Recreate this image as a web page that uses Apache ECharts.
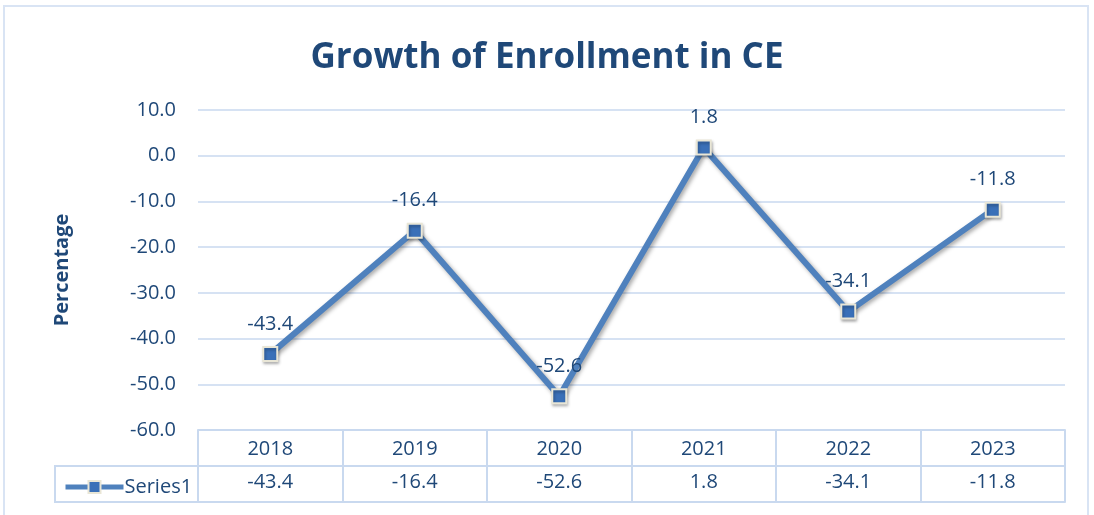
<!DOCTYPE html>
<html><head><meta charset="utf-8">
<script src="https://cdn.jsdelivr.net/npm/echarts@6/dist/echarts.min.js"></script>
<style>
html,body{margin:0;padding:0;background:#fff;}
#frame{position:absolute;left:3px;top:5px;width:1086px;height:520px;border:2px solid #d9e4f4;box-sizing:border-box;}
#c{position:absolute;left:0;top:0;width:1094px;height:515px;}
</style></head>
<body>
<div id="frame"></div>
<div id="c"></div>
<script>
const titleText = 'Growth of Enrollment in CE';
const yAxisName = 'Percentage';
const seriesName = 'Series1';
const categories = ['2018','2019','2020','2021','2022','2023'];
const values = [-43.4, -16.4, -52.6, 1.8, -34.1, -11.8];

const textColor = '#1f4878';
const tableLine = '#c9d9ef';
const font = '"Open Sans", "Noto Sans", sans-serif';

const chart = echarts.init(document.getElementById('c'), null, {renderer:'canvas'});
chart.setOption({
  backgroundColor: 'transparent',
  animation: false,
  title: {
    text: titleText, left: 'center', top: 36,
    textStyle: {fontFamily: font, fontWeight: 'bold', fontSize: 35, color: textColor}
  },
  legend: {
    left: 58, top: 472, itemWidth: 58, itemHeight: 15, itemGap: 0,
    textStyle: {fontFamily: font, fontSize: 20, color: textColor, padding:[0,0,0,-4]},
    lineStyle: {width: 5},
    data: [seriesName]
  },
  grid: {left: 198, right: 29, top: 110, bottom: 85, containLabel: false},
  xAxis: [
    {
      type: 'category', data: categories, position: 'bottom',
      axisLine: {show: true, onZero: false, lineStyle: {color: tableLine, width: 2}},
      axisTick: {show: true, length: 72, inside: false, lineStyle: {color: tableLine, width: 2}},
      axisLabel: {margin: 9, fontFamily: font, fontSize: 20, color: textColor},
      splitLine: {show: false}
    },
    {
      type: 'category', data: values.map(v => v.toFixed(1)), position: 'bottom', offset: 36,
      axisLine: {show: true, onZero: false, lineStyle: {color: tableLine, width: 2}},
      axisTick: {show: false},
      axisLabel: {margin: 6, fontFamily: font, fontSize: 20, color: textColor}
    },
    {
      type: 'category', data: categories, position: 'bottom', offset: 72,
      axisLine: {show: true, onZero: false, lineStyle: {color: tableLine, width: 2}},
      axisTick: {show: false},
      axisLabel: {show: false}
    }
  ],
  yAxis: {
    type: 'value', min: -60, max: 10, interval: 10,
    name: yAxisName, nameLocation: 'middle', nameGap: 126, nameRotate: 90,
    nameTextStyle: {fontFamily: font, fontWeight: 'bold', fontSize: 20, color: textColor},
    axisLine: {show: false}, axisTick: {show: false},
    axisLabel: {margin: 22, fontFamily: font, fontSize: 20, color: textColor, formatter: v => v.toFixed(1)},
    splitLine: {lineStyle: {color: '#d6e2f3', width: 2}}
  },
  graphic: [
    {type: 'rect', shape: {x: 55, y: 466, width: 143, height: 36}, style: {fill: 'none', stroke: tableLine, lineWidth: 2}, z: -1}
  ],
  series: [{
    name: seriesName, type: 'line', xAxisIndex: 0, data: values,
    symbol: 'rect', symbolSize: 14,
    lineStyle: {color: '#4f81bd', width: 6, shadowColor: 'rgba(0,0,0,0.35)', shadowBlur: 4, shadowOffsetX: 2, shadowOffsetY: 2},
    itemStyle: {color: '#3a70b8', borderColor: '#e9e6d6', borderWidth: 2, shadowColor: 'rgba(0,0,0,0.3)', shadowBlur: 3, shadowOffsetX: 1, shadowOffsetY: 2},
    label: {show: true, position: 'top', distance: 12, fontFamily: font, fontSize: 20, color: textColor, formatter: p => p.value.toFixed(1)}
  }]
});
</script>
</body></html>
